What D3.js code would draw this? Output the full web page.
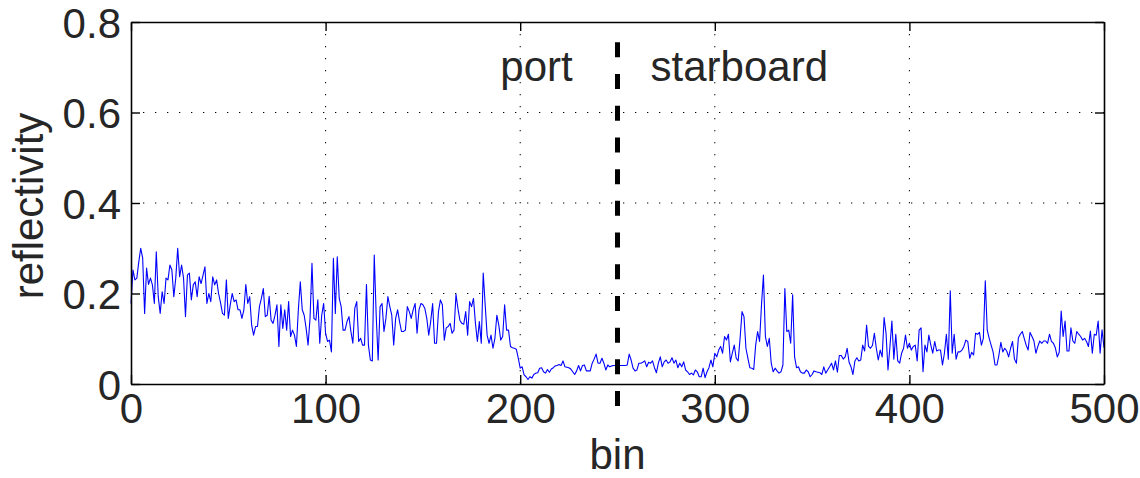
<!DOCTYPE html>
<html>
<head>
<meta charset="utf-8">
<script src="https://cdn.jsdelivr.net/npm/d3@7"></script>
<style>
  html, body { margin: 0; padding: 0; background: #fff; }
  svg { display: block; }
  text { font-family: "Liberation Sans", Arial, Helvetica, sans-serif; fill: #262626; }
</style>
</head>
<body>
<svg id="chart" width="1140" height="478"></svg>
<script>
// ---- data ----
const reflectivity = [
  0.178,0.252,0.230,0.234,0.270,0.300,0.278,0.156,0.256,0.220,
  0.234,0.219,0.178,0.292,0.193,0.156,0.204,0.178,0.234,0.230,
  0.263,0.252,0.193,0.234,0.300,0.237,0.263,0.234,0.149,0.241,
  0.245,0.186,0.219,0.226,0.193,0.237,0.222,0.240,0.259,0.178,
  0.200,0.182,0.237,0.219,0.230,0.200,0.180,0.156,0.152,0.230,
  0.145,0.175,0.200,0.182,0.186,0.164,0.164,0.145,0.164,0.220,
  0.178,0.193,0.130,0.108,0.127,0.127,0.171,0.189,0.211,0.149,
  0.152,0.194,0.141,0.134,0.152,0.175,0.083,0.175,0.123,0.164,
  0.119,0.182,0.105,0.119,0.108,0.083,0.164,0.226,0.164,0.152,
  0.123,0.086,0.145,0.267,0.145,0.141,0.186,0.090,0.152,0.178,
  0.112,0.094,0.097,0.071,0.278,0.156,0.281,0.189,0.171,0.119,
  0.119,0.138,0.149,0.116,0.090,0.167,0.182,0.094,0.101,0.086,
  0.086,0.220,0.086,0.053,0.051,0.285,0.152,0.053,0.171,0.178,
  0.116,0.145,0.193,0.171,0.152,0.086,0.145,0.164,0.138,0.116,
  0.116,0.119,0.171,0.160,0.145,0.164,0.178,0.112,0.164,0.178,
  0.175,0.167,0.145,0.108,0.138,0.178,0.090,0.090,0.160,0.186,
  0.175,0.097,0.124,0.127,0.134,0.112,0.119,0.198,0.167,0.141,
  0.134,0.132,0.160,0.108,0.182,0.171,0.189,0.134,0.094,0.138,
  0.090,0.245,0.175,0.108,0.090,0.108,0.079,0.101,0.152,0.130,
  0.097,0.105,0.175,0.119,0.119,0.083,0.080,0.079,0.077,0.057,
  0.035,0.038,0.020,0.016,0.010,0.016,0.013,0.021,0.024,0.025,
  0.035,0.036,0.027,0.024,0.032,0.026,0.033,0.036,0.040,0.041,
  0.043,0.041,0.051,0.038,0.037,0.036,0.033,0.027,0.021,0.029,
  0.041,0.029,0.041,0.042,0.029,0.029,0.029,0.046,0.055,0.066,
  0.046,0.046,0.057,0.046,0.031,0.042,0.038,0.040,0.041,0.041,
  0.041,0.041,0.041,0.041,0.041,0.042,0.066,0.053,0.035,0.029,
  0.031,0.046,0.046,0.048,0.051,0.038,0.048,0.046,0.051,0.036,
  0.025,0.046,0.060,0.038,0.049,0.053,0.046,0.049,0.058,0.046,
  0.053,0.036,0.046,0.038,0.049,0.031,0.027,0.021,0.024,0.020,
  0.031,0.027,0.016,0.016,0.035,0.014,0.027,0.036,0.053,0.038,
  0.068,0.060,0.075,0.083,0.068,0.105,0.097,0.110,0.049,0.068,
  0.086,0.057,0.051,0.101,0.160,0.149,0.079,0.057,0.036,0.035,
  0.032,0.086,0.116,0.094,0.175,0.241,0.105,0.083,0.101,0.046,
  0.027,0.035,0.029,0.024,0.027,0.042,0.211,0.116,0.119,0.090,
  0.197,0.060,0.036,0.038,0.027,0.024,0.024,0.031,0.027,0.016,
  0.021,0.029,0.027,0.026,0.025,0.021,0.038,0.024,0.031,0.038,
  0.046,0.031,0.051,0.026,0.063,0.063,0.055,0.060,0.079,0.048,
  0.038,0.021,0.051,0.058,0.051,0.053,0.086,0.073,0.130,0.083,
  0.079,0.085,0.112,0.079,0.053,0.075,0.060,0.147,0.112,0.031,
  0.083,0.139,0.055,0.110,0.051,0.046,0.068,0.079,0.108,0.079,
  0.090,0.075,0.083,0.086,0.051,0.119,0.124,0.027,0.086,0.071,
  0.108,0.086,0.068,0.094,0.073,0.075,0.075,0.042,0.068,0.110,
  0.055,0.206,0.068,0.110,0.055,0.071,0.071,0.075,0.083,0.097,
  0.094,0.057,0.070,0.064,0.112,0.110,0.114,0.086,0.101,0.228,
  0.119,0.101,0.086,0.071,0.042,0.042,0.064,0.092,0.071,0.079,
  0.073,0.060,0.079,0.094,0.055,0.046,0.102,0.110,0.116,0.101,
  0.086,0.075,0.114,0.105,0.095,0.068,0.083,0.095,0.090,0.095,
  0.095,0.090,0.110,0.094,0.090,0.080,0.060,0.070,0.161,0.105,
  0.139,0.073,0.073,0.124,0.095,0.090,0.116,0.110,0.105,0.097,
  0.101,0.094,0.083,0.117,0.068,0.110,0.108,0.139,0.068,0.120,0.080
];
const xTicks = [0, 100, 200, 300, 400, 500];
const yTicks = [0, 0.2, 0.4, 0.6, 0.8];
const xDomain = [0, 500];
const yDomain = [0, 0.8];
const dividerBin = 250;
const dividerRange = [0.755, -0.06];
const sideLabels = [
  { text: "port", bin: 227, y: 0.67, anchor: "end" },
  { text: "starboard", bin: 267, y: 0.67, anchor: "start" }
];
const xLabel = "bin";
const yLabel = "reflectivity";

(function () {
  const svg = d3.select("#chart");
  const pLeft = 131, pRight = 1104, pTop = 22, pBottom = 384;
  const x = d3.scaleLinear().domain(xDomain).range([pLeft, pRight]);
  const y = d3.scaleLinear().domain(yDomain).range([pBottom, pTop]);
  const fontSize = 42;

  // grid
  const grid = svg.append("g");
  grid.selectAll("line.gx").data(xTicks.slice(1, -1)).enter().append("line")
    .attr("x1", d => x(d)).attr("x2", d => x(d)).attr("y1", pTop).attr("y2", pBottom)
    .attr("stroke", "#000").attr("stroke-width", 1).attr("stroke-dasharray", "1.3,10.7");
  grid.selectAll("line.gy").data(yTicks.slice(1, -1)).enter().append("line")
    .attr("y1", d => y(d)).attr("y2", d => y(d)).attr("x1", pLeft).attr("x2", pRight)
    .attr("stroke", "#000").attr("stroke-width", 1).attr("stroke-dasharray", "1.3,10.7");

  // data line
  const line = d3.line().x((d, i) => x(i)).y(d => y(d));
  svg.append("path").datum(reflectivity)
    .attr("d", line).attr("fill", "none").attr("stroke", "#0000ff").attr("stroke-width", 1.1)
    .attr("stroke-linejoin", "round");

  // axes (box style, inward ticks)
  const tickLen = 9;
  const xAxisB = d3.axisBottom(x).tickValues(xTicks).tickSizeInner(-tickLen).tickSizeOuter(0).tickPadding(9);
  const xAxisT = d3.axisTop(x).tickValues(xTicks).tickSizeInner(-tickLen).tickSizeOuter(0).tickFormat("");
  const yAxisL = d3.axisLeft(y).tickValues(yTicks).tickSizeInner(-tickLen).tickSizeOuter(0).tickPadding(10).tickFormat(d3.format("~g"));
  const yAxisR = d3.axisRight(y).tickValues(yTicks).tickSizeInner(-tickLen).tickSizeOuter(0).tickFormat("");

  function style(g) {
    g.selectAll("path.domain").attr("stroke", "#000").attr("stroke-width", 1.6);
    g.selectAll(".tick line").attr("stroke", "#000").attr("stroke-width", 1.4);
    g.selectAll(".tick text").attr("font-size", fontSize).attr("fill", "#262626")
      .attr("font-family", "'Liberation Sans', Arial, sans-serif");
  }
  svg.append("g").attr("transform", `translate(0,${pBottom})`).call(xAxisB).call(style)
    .selectAll(".tick text").attr("dy", "0.71em");
  svg.append("g").attr("transform", `translate(0,${pTop})`).call(xAxisT).call(style);
  svg.append("g").attr("transform", `translate(${pLeft},0)`).call(yAxisL).call(style)
    .selectAll(".tick text").attr("dy", "0.36em");
  svg.append("g").attr("transform", `translate(${pRight},0)`).call(yAxisR).call(style);

  // divider dashed line
  svg.append("line")
    .attr("x1", x(dividerBin)).attr("x2", x(dividerBin))
    .attr("y1", y(dividerRange[0])).attr("y2", y(dividerRange[1]))
    .attr("stroke", "#000").attr("stroke-width", 5).attr("stroke-dasharray", "15,16.7");

  // side labels
  svg.selectAll("text.side").data(sideLabels).enter().append("text")
    .attr("x", d => x(d.bin)).attr("y", d => y(d.y)).attr("text-anchor", d => d.anchor)
    .attr("font-size", fontSize).text(d => d.text);

  // axis labels
  svg.append("text").attr("x", (pLeft + pRight) / 2).attr("y", 469).attr("text-anchor", "middle")
    .attr("font-size", fontSize).text(xLabel);
  svg.append("text").attr("transform", `translate(43,206) rotate(-90)`)
    .attr("text-anchor", "middle").attr("font-size", fontSize).text(yLabel);
})();
</script>
</body>
</html>
